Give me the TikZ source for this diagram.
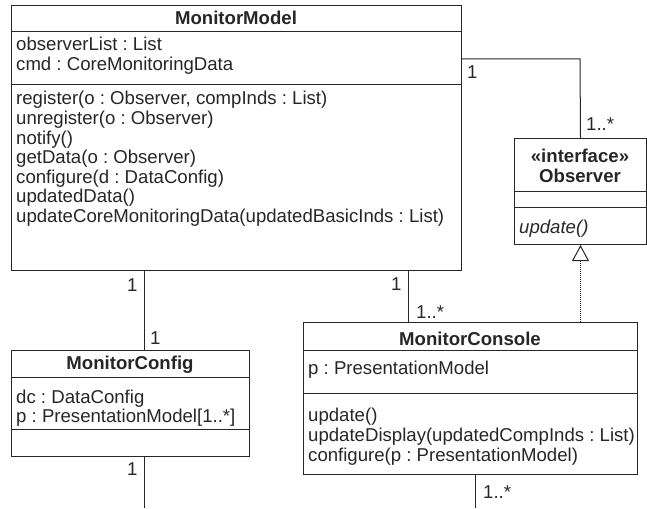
\documentclass[tikz,border=0pt]{standalone}
\usepackage{fontspec}
\setmainfont{Liberation Sans}
\frenchspacing
\usetikzlibrary{arrows.meta}
\begin{document}
\begin{tikzpicture}[x=1pt,y=-1pt,
  box/.style={draw=black!85, line width=1pt, rectangle, inner sep=0pt, anchor=north west},
  sep/.style={draw=black!85, line width=1pt},
  txt/.style={anchor=base west, inner sep=0pt, font=\fontsize{18.6}{20}\selectfont, text=black!85},
  ttl/.style={anchor=base, inner sep=0pt, font=\fontsize{18.6}{20}\selectfont\bfseries, text=black!85},
  mult/.style={txt},
  assoc/.style={draw=black!85, line width=1pt},
  realize/.style={draw=black!85, line width=1pt, dash pattern=on 1pt off 1pt,
    -{Triangle[open, width=17pt, length=16pt, line width=1pt]}}]
\useasboundingbox (0,0) rectangle (647,508);

% ---------- MonitorModel ----------
\node[box, minimum width=450pt, minimum height=265pt] (mm) at (11,5) {};
\draw[sep] (mm.west |- 0,32) -- (mm.east |- 0,32);
\draw[sep] (mm.west |- 0,85) -- (mm.east |- 0,85);
\node[ttl] (mmt) at (236,25) {MonitorModel};
\node[txt] (mma1) at (16,51) {observerList : List};
\node[txt] (mma2) at (16,70.5) {cmd : CoreMonitoringData};
\node[txt] (mmo1) at (16,105) {register(o : Observer, compInds : List)};
\node[txt] (mmo2) at (16,124.5) {unregister(o : Observer)};
\node[txt] (mmo3) at (16,144) {notify()};
\node[txt] (mmo4) at (16,163.5) {getData(o : Observer)};
\node[txt] (mmo5) at (16,183) {configure(d : DataConfig)};
\node[txt] (mmo6) at (16,202.5) {updatedData()};
\node[txt] (mmo7) at (16,222) {updateCoreMonitoringData(updatedBasicInds : List)};

% ---------- Observer ----------
\node[box, minimum width=132pt, minimum height=106pt] (obs) at (514,138) {};
\draw[sep] (obs.west |- 0,191) -- (obs.east |- 0,191);
\draw[sep] (obs.west |- 0,207) -- (obs.east |- 0,207);
\node[ttl] (obst1) at (580,162) {«interface»};
\node[ttl] (obst2) at (580,182) {Observer};
\node[txt, font=\fontsize{18.6}{20}\selectfont\itshape] (obso1) at (519,233) {update()};

% ---------- MonitorConsole ----------
\node[box, minimum width=334pt, minimum height=152pt] (mc) at (303,322) {};
\draw[sep] (mc.west |- 0,350) -- (mc.east |- 0,350);
\draw[sep] (mc.west |- 0,393) -- (mc.east |- 0,393);
\node[ttl] (mct) at (470,345) {MonitorConsole};
\node[txt] (mca1) at (308,374) {p : PresentationModel};
\node[txt] (mco1) at (308,421) {update()};
\node[txt] (mco2) at (308,441) {updateDisplay(updatedCompInds : List)};
\node[txt] (mco3) at (308,461) {configure(p : PresentationModel)};

% ---------- MonitorConfig ----------
\node[box, minimum width=238pt, minimum height=106pt] (cf) at (11,350) {};
\draw[sep] (cf.west |- 0,377) -- (cf.east |- 0,377);
\draw[sep] (cf.west |- 0,429) -- (cf.east |- 0,429);
\node[ttl] (cft) at (130,369) {MonitorConfig};
\node[txt] (cfa1) at (16,403) {dc : DataConfig};
\node[txt] (cfa2) at (16,422) {p : PresentationModel[1..*]};

% ---------- connectors ----------
\coordinate (j1) at (580,59);
\draw[assoc] (mm.east |- j1) -- (j1) -- (obs.north);
\node[mult] (m1) at (467,79) {1};
\node[mult] (m2) at (586,131) {1..*};

\coordinate (cfx) at (144,300);
\draw[assoc] (mm.south -| cfx) -- (cf.north -| cfx);
\node[mult] (m3) at (127,291) {1};
\node[mult] (m4) at (150,344) {1};

\coordinate (cfend) at (144,508);
\draw[assoc] (cf.south -| cfend) -- (cfend);
\node[mult] (m5) at (127,475) {1};

\coordinate (mcx) at (408,300);
\draw[assoc] (mm.south -| mcx) -- (mc.north -| mcx);
\node[mult] (m6) at (391,290) {1};
\node[mult] (m7) at (416,318) {1..*};

\coordinate (mcend) at (475,508);
\draw[assoc] (mc.south -| mcend) -- (mcend);
\node[mult] (m8) at (483,498) {1..*};

\draw[realize] (mc.north -| obs.south) -- (obs.south);
\end{tikzpicture}
\end{document}
